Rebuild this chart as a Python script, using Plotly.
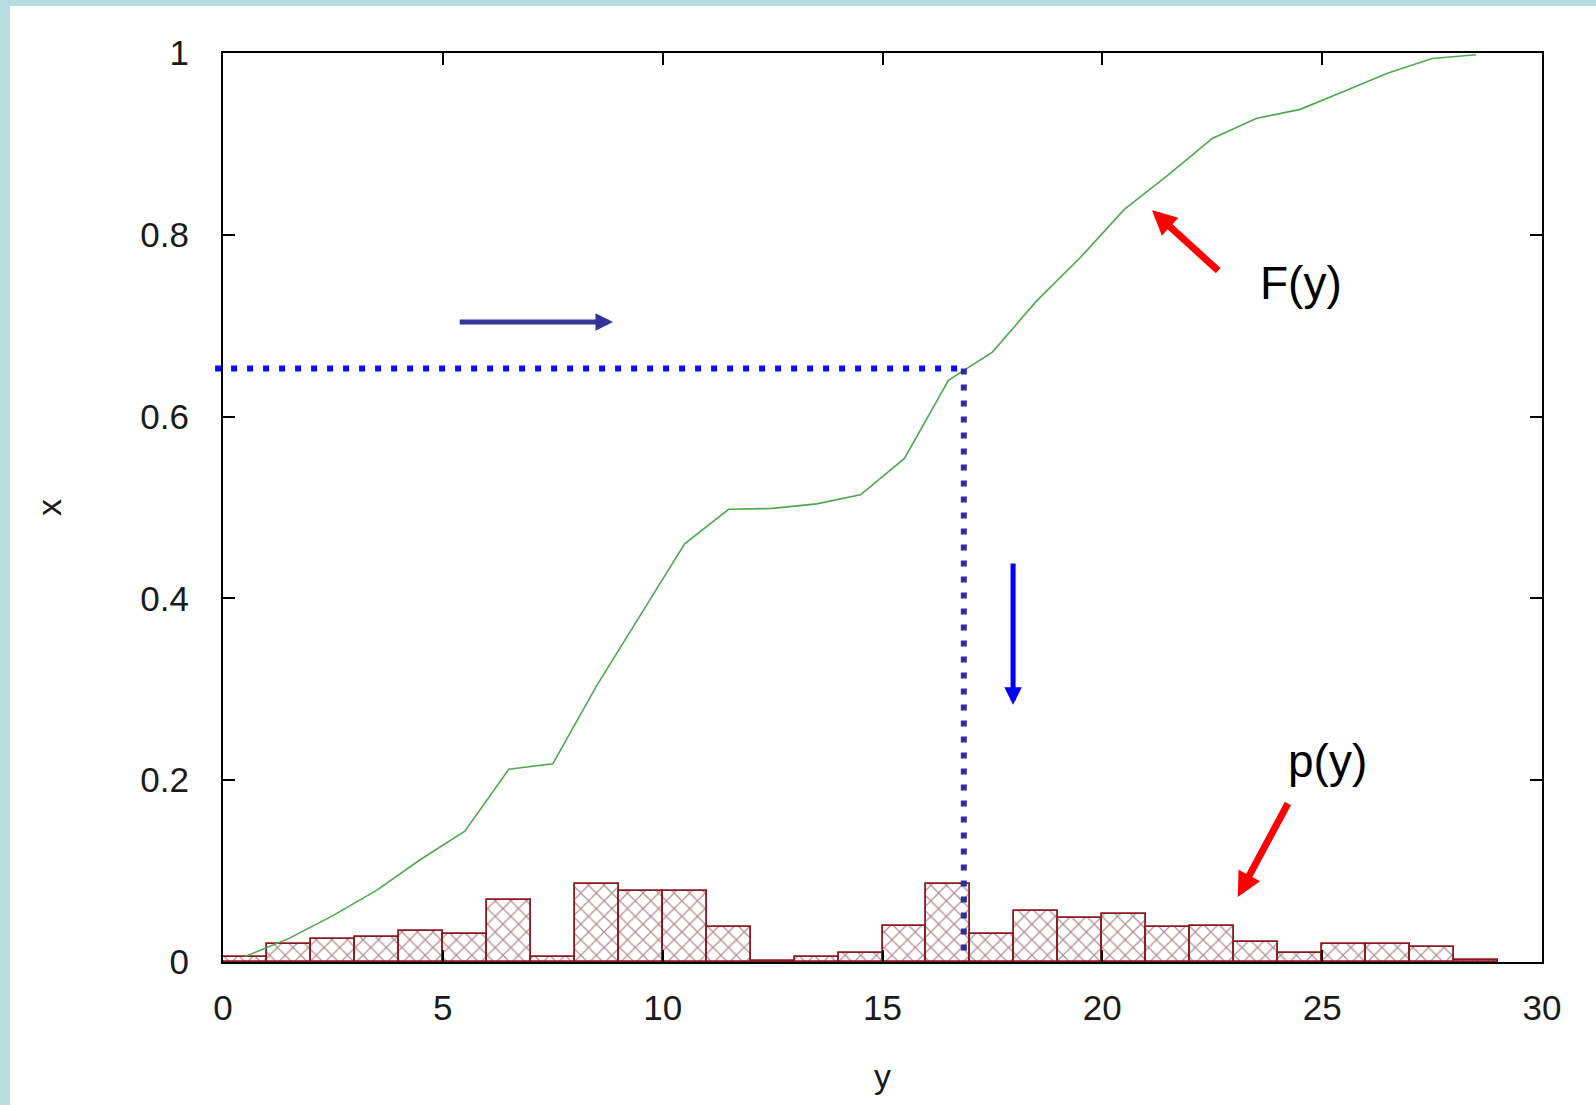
import plotly.graph_objects as go

# ---- data ----
bin_left = list(range(29))                      # histogram bins of width 1: [0,1), [1,2) ... [28,29)
bin_width = 1.0
p_values = [0.006, 0.020, 0.025, 0.028, 0.034, 0.031, 0.068, 0.006, 0.086, 0.078,
            0.078, 0.038, 0.001, 0.005, 0.010, 0.040, 0.086, 0.031, 0.056, 0.048,
            0.053, 0.038, 0.040, 0.022, 0.010, 0.020, 0.020, 0.016, 0.002]
F_values = [0.006, 0.026, 0.051, 0.079, 0.113, 0.144, 0.212, 0.218, 0.304, 0.382,
            0.460, 0.498, 0.499, 0.504, 0.514, 0.554, 0.640, 0.671, 0.727, 0.775,
            0.828, 0.866, 0.906, 0.928, 0.938, 0.958, 0.978, 0.994, 0.998]

x_ticks = [0, 5, 10, 15, 20, 25, 30]
y_ticks = [0, 0.2, 0.4, 0.6, 0.8, 1]
y_tick_labels = ["0", "0.2", "0.4", "0.6", "0.8", "1"]

# inverse-transform illustration: random draw x -> y
draw_x_value = 0.653
draw_y_value = 16.85
guide_start_y = -0.18     # horizontal guide starts just left of the axis
guide_bottom_x = 0.008

# arrows (tail -> head), data coordinates
arrow_right = dict(tail=(5.35, 0.704), head=(8.87, 0.704))
arrow_down = dict(tail=(17.97, 0.440), head=(17.97, 0.283))
arrow_F = dict(tail=(22.67, 0.759), head=(21.13, 0.827))
arrow_p = dict(tail=(24.24, 0.176), head=(23.08, 0.0715))
label_F = dict(text="F(y)", pos=(24.52, 0.747))
label_p = dict(text="p(y)", pos=(25.13, 0.221))

X_RANGE = [0, 30]
Y_RANGE = [0, 1]

bin_centers = [b + bin_width / 2 for b in bin_left]

W, H = 1596, 1105
ML, MR, MT, MB = 223, 54, 53, 143
PW, PH = W - ML - MR, H - MT - MB

def xpaper(v):
    return (v - X_RANGE[0]) / (X_RANGE[1] - X_RANGE[0])

def ypaper(v):
    return (v - Y_RANGE[0]) / (Y_RANGE[1] - Y_RANGE[0])

FONT = "Liberation Sans, Arial, sans-serif"

fig = go.Figure()

fig.add_trace(go.Bar(
    x=bin_centers, y=p_values, width=bin_width,
    marker=dict(
        color="white",
        line=dict(color="#8a1a20", width=1.8),
        pattern=dict(shape="x", fgcolor="#6e1c22", bgcolor="white", size=11, solidity=0.22),
    ),
    showlegend=False,
))

fig.add_trace(go.Scatter(
    x=bin_centers, y=F_values, mode="lines",
    line=dict(color="#4fa84f", width=1.6),
    showlegend=False,
))

shapes = []
# light blue page border (left and top)
BORDER = "#b7dde0"
shapes.append(dict(type="rect", xref="paper", yref="paper", layer="below",
                   x0=(0 - ML) / PW, x1=(10 - ML) / PW, y0=-(MB) / PH, y1=(H - MB) / PH,
                   fillcolor=BORDER, line=dict(width=0)))
shapes.append(dict(type="rect", xref="paper", yref="paper", layer="below",
                   x0=(0 - ML) / PW, x1=(W - ML) / PW, y0=(H - MB - 6) / PH, y1=(H - MB) / PH,
                   fillcolor=BORDER, line=dict(width=0)))
# dotted guide lines
shapes.append(dict(type="line", xref="paper", yref="paper", layer="above",
                   x0=xpaper(guide_start_y), x1=xpaper(draw_y_value),
                   y0=ypaper(draw_x_value), y1=ypaper(draw_x_value),
                   line=dict(color="#0a0af5", width=6, dash="6px,10px")))
shapes.append(dict(type="line", xref="paper", yref="paper", layer="above",
                   x0=xpaper(draw_y_value), x1=xpaper(draw_y_value),
                   y0=ypaper(draw_x_value), y1=ypaper(guide_bottom_x),
                   line=dict(color="#2e2e9c", width=6, dash="6px,10px")))

annotations = []
def arrow(a, color, width, size):
    annotations.append(dict(
        x=a["head"][0], y=a["head"][1], ax=a["tail"][0], ay=a["tail"][1],
        xref="x", yref="y", axref="x", ayref="y", text="", showarrow=True,
        arrowhead=2, arrowcolor=color, arrowwidth=width, arrowsize=size,
        standoff=0, startstandoff=0,
    ))

arrow(arrow_right, "#333399", 5, 0.7)
arrow(arrow_down, "#0000ff", 5, 0.7)
arrow(arrow_F, "#ff0000", 7, 0.7)
arrow(arrow_p, "#ff0000", 7, 0.7)

for lab in (label_F, label_p):
    annotations.append(dict(
        x=lab["pos"][0], y=lab["pos"][1], xref="x", yref="y", text=lab["text"],
        showarrow=False, font=dict(family=FONT, size=46, color="#000000"),
        xanchor="center", yanchor="middle",
    ))

axis_common = dict(
    showline=True, linecolor="#000000", linewidth=2, mirror="ticks",
    ticks="inside", ticklen=12, tickwidth=1.5, tickcolor="#000000",
    showgrid=False, zeroline=False,
    tickfont=dict(family=FONT, size=35, color="#1a1a1a"),
)

fig.update_layout(
    width=W, height=H,
    margin=dict(l=ML, r=MR, t=MT, b=MB, pad=0),
    paper_bgcolor="white", plot_bgcolor="white",
    bargap=0,
    xaxis=dict(range=X_RANGE, tickvals=x_ticks, ticktext=[str(v) for v in x_ticks],
               ticklabelstandoff=14,
               title=dict(text="y", font=dict(family=FONT, size=34, color="#1a1a1a"), standoff=38),
               **axis_common),
    yaxis=dict(range=Y_RANGE, tickvals=y_ticks, ticktext=y_tick_labels,
               ticklabelstandoff=25,
               title=dict(text="x", font=dict(family=FONT, size=34, color="#1a1a1a"), standoff=68),
               **axis_common),
    shapes=shapes,
    annotations=annotations,
)

fig.write_html("out.html")
